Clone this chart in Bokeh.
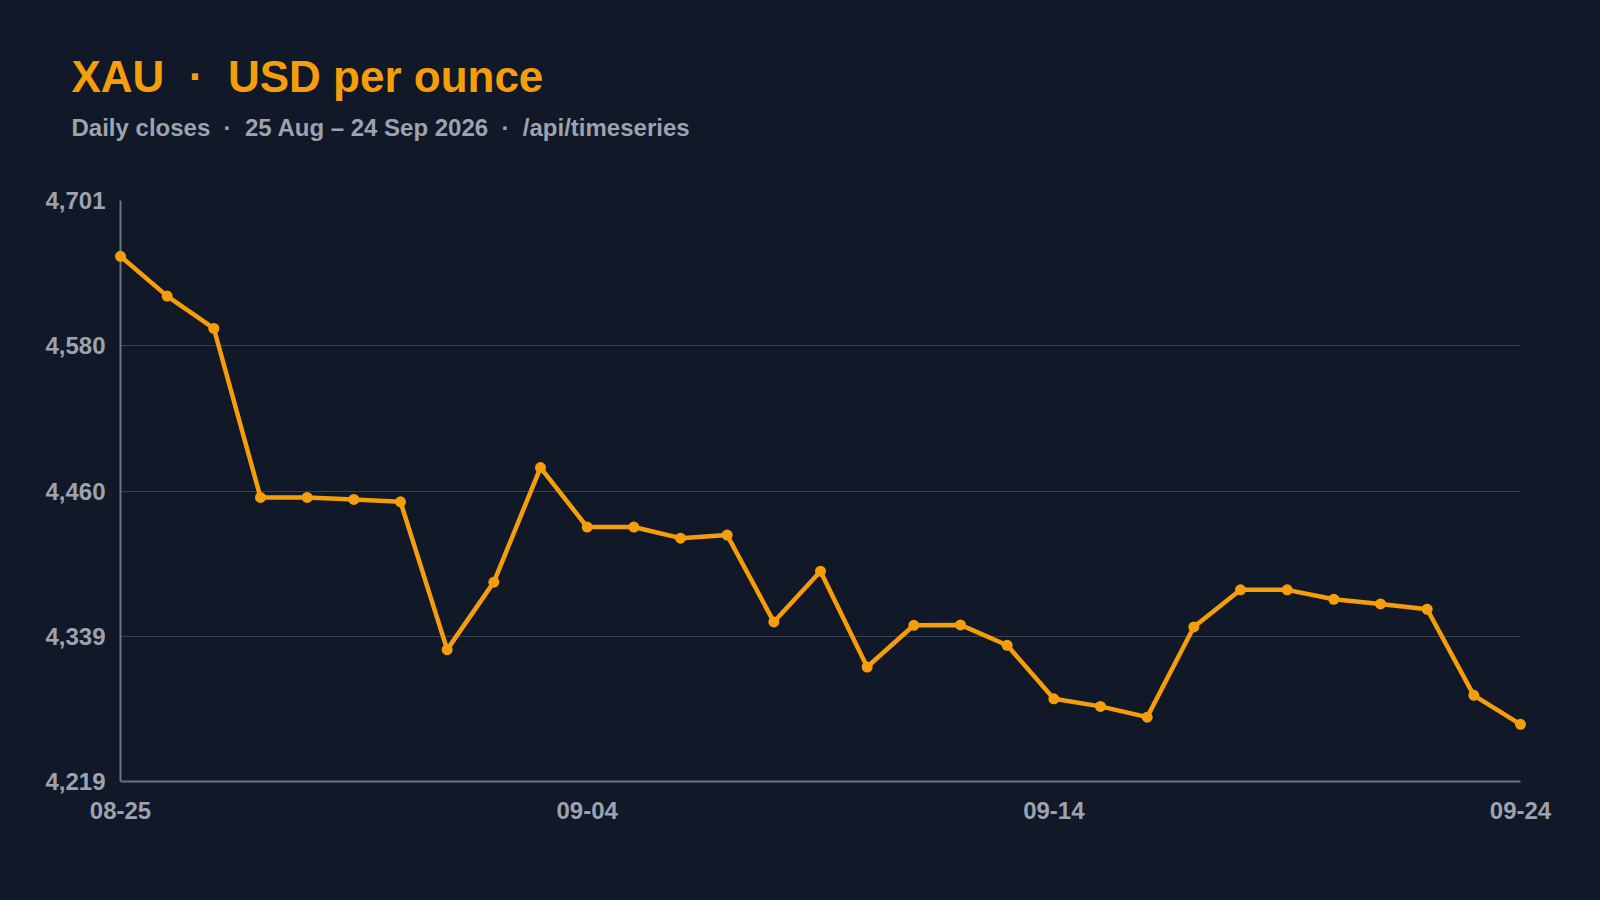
from bokeh.plotting import figure
from bokeh.models import Range1d, FixedTicker, Title, ColumnDataSource
from bokeh.embed import file_html
from bokeh.resources import INLINE

# ---- data ----
dates = ["08-25", "08-26", "08-27", "08-28", "08-29", "08-30", "08-31",
         "09-01", "09-02", "09-03", "09-04", "09-05", "09-06", "09-07",
         "09-08", "09-09", "09-10", "09-11", "09-12", "09-13", "09-14",
         "09-15", "09-16", "09-17", "09-18", "09-19", "09-20", "09-21",
         "09-22", "09-23", "09-24"]
closes = [4654.7, 4621.7, 4594.9, 4454.7, 4454.7, 4453.0, 4451.0,
          4328.4, 4384.4, 4479.4, 4430.1, 4430.1, 4420.9, 4423.4,
          4351.4, 4393.5, 4314.0, 4348.6, 4348.9, 4332.0, 4287.6,
          4281.3, 4272.4, 4347.2, 4378.0, 4378.0, 4370.2, 4366.3,
          4361.9, 4290.5, 4266.4]
y_tick_values = [4219.0, 4339.5, 4460.0, 4580.5, 4701.0]
y_tick_labels = ["4,219", "4,339", "4,460", "4,580", "4,701"]
x_tick_labels = ["08-25", "09-04", "09-14", "09-24"]

NB = "\u00a0"
title_text = "XAU" + NB * 2 + "\u00b7" + NB * 2 + "USD per ounce"
subtitle_text = ("Daily closes" + NB * 2 + "\u00b7" + NB * 2 + "25 Aug \u2013 24 Sep 2026"
                 + NB * 2 + "\u00b7" + NB * 2 + "/api/timeseries")

BG = "#111827"
ORANGE = "#f59e0b"
MUTED = "#9ca3af"
GRID = "#374151"
AXIS = "#6b7280"
FONT = "Liberation Sans"

x = list(range(len(dates)))
src = ColumnDataSource(dict(x=x, y=closes, date=dates))

p = figure(width=1600, height=900, output_backend="svg", toolbar_location=None,
           x_range=Range1d(0, len(dates) - 1),
           y_range=Range1d(y_tick_values[0], y_tick_values[-1]),
           min_border_left=120, min_border_right=80,
           min_border_top=0, min_border_bottom=119)
p.title.visible = False
p.background_fill_color = BG
p.border_fill_color = BG
p.outline_line_color = None

# header block, stacked outward from the frame: spacer, subtitle, title, spacer
def spacer(st):
    return Title(text=NB, text_font_size="10px", standoff=st, text_color=BG)

p.add_layout(spacer(36), "above")
p.add_layout(Title(text=subtitle_text, text_color=MUTED, text_font=FONT,
                   text_font_style="bold", text_font_size="24px",
                   align="left", offset=-49, standoff=22, vertical_align="bottom"), "above")
p.add_layout(Title(text=title_text, text_color=ORANGE, text_font=FONT,
                   text_font_style="bold", text_font_size="44px",
                   align="left", offset=-49, standoff=0, vertical_align="bottom"), "above")
p.add_layout(spacer(36), "above")

# drawn at overlay level so the end markers are not cut by the frame edge
p.line("x", "y", source=src, line_width=4.5, line_color=ORANGE, line_join="round",
       level="overlay")
p.scatter("x", "y", source=src, size=11, fill_color=ORANGE, line_color=None,
          level="overlay")

x_ticks = [dates.index(t) for t in x_tick_labels]
p.xaxis.ticker = FixedTicker(ticks=x_ticks)
p.xaxis.major_label_overrides = {i: t for i, t in zip(x_ticks, x_tick_labels)}
p.yaxis.ticker = FixedTicker(ticks=y_tick_values)
p.yaxis.major_label_overrides = {v: t for v, t in zip(y_tick_values, y_tick_labels)}

for ax in (p.xaxis, p.yaxis):
    ax.axis_line_color = AXIS
    ax.axis_line_width = 2
    ax.major_tick_line_color = None
    ax.minor_tick_line_color = None
    ax.major_tick_out = 0
    ax.major_tick_in = 0
    ax.major_label_text_color = MUTED
    ax.major_label_text_font = FONT
    ax.major_label_text_font_style = "bold"
    ax.major_label_text_font_size = "24px"
p.yaxis.major_label_standoff = 15
p.xaxis.major_label_standoff = 20

p.xgrid.grid_line_color = None
p.ygrid.grid_line_color = GRID
p.ygrid.grid_line_width = 1

html = file_html(p, INLINE)
html = html.replace("<head>", "<head><style>html,body{background:#111827;}</style>", 1)
open("out.html", "w").write(html)
